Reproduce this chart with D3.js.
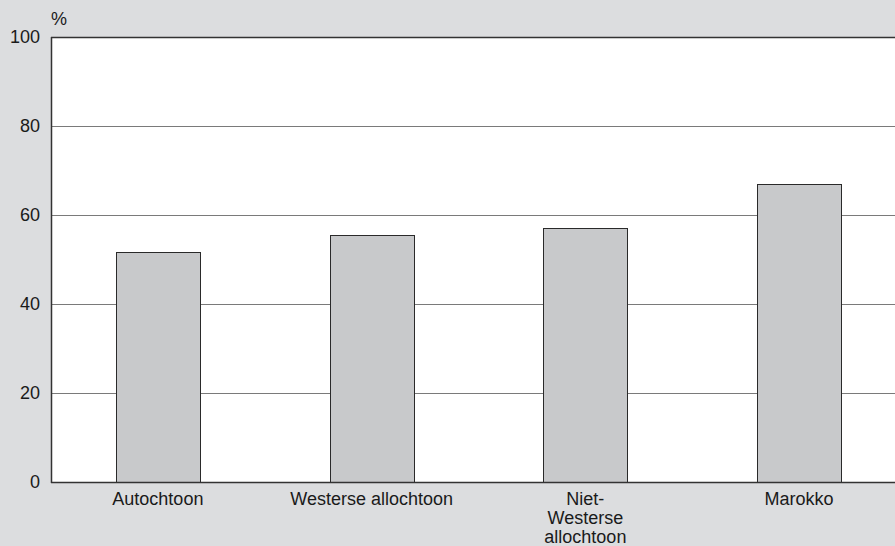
<!DOCTYPE html>
<html><head><meta charset="utf-8">
<script src="https://cdn.jsdelivr.net/npm/d3@7"></script>
<style>html,body{margin:0;padding:0;background:#dcdddf;}svg{display:block;}</style>
</head><body>
<svg id="c" width="895" height="546"></svg>
<script>
const categories = ["Autochtoon", "Westerse allochtoon", "Niet-Westerse allochtoon", "Marokko"];
const labelLines = [["Autochtoon"], ["Westerse allochtoon"], ["Niet-", "Westerse", "allochtoon"], ["Marokko"]];
const values = [51.6, 55.5, 57.0, 67.0];
const yTicks = [0, 20, 40, 60, 80, 100];
const unitLabel = "%";

(function () {
const svg = d3.select("#c");
const W = 895, H = 546;
const pLeft = 51, pTop = 37, pBottom = 482, rightExt = 906;
const font = "'Liberation Sans', Arial, sans-serif";
const fs = 18;

svg.append("rect").attr("width", W).attr("height", H).attr("fill", "#dcdddf");
svg.append("rect").attr("x", pLeft).attr("y", pTop).attr("width", W - pLeft).attr("height", pBottom - pTop).attr("fill", "#ffffff");

const x = d3.scaleBand().domain(categories).range([pLeft, rightExt]).paddingInner(0.607).paddingOuter(0.3035);
const y = d3.scaleLinear().domain([0, 100]).range([pBottom, pTop]);

// gridlines
svg.append("g").selectAll("line").data(yTicks.filter(t => t > 0 && t < 100)).join("line")
  .attr("x1", pLeft).attr("x2", W).attr("y1", d => y(d) + 0.5).attr("y2", d => y(d) + 0.5)
  .attr("stroke", "#7a7a7a").attr("stroke-width", 1);

// bars
svg.append("g").selectAll("rect").data(values).join("rect")
  .attr("x", (d, i) => Math.round(x(categories[i])) + 0.5)
  .attr("y", d => Math.round(y(d)) + 0.5)
  .attr("width", Math.round(x.bandwidth()))
  .attr("height", d => pBottom - Math.round(y(d)))
  .attr("fill", "#c8c9cb").attr("stroke", "#2a2a2a").attr("stroke-width", 1);

// frame lines: top, left, bottom
svg.append("line").attr("x1", pLeft).attr("x2", W).attr("y1", pTop + 0.5).attr("y2", pTop + 0.5).attr("stroke", "#333").attr("stroke-width", 1.5);
svg.append("line").attr("x1", pLeft).attr("x2", W).attr("y1", pBottom + 0.5).attr("y2", pBottom + 0.5).attr("stroke", "#333").attr("stroke-width", 1.5);
svg.append("line").attr("x1", pLeft + 0.5).attr("x2", pLeft + 0.5).attr("y1", pTop).attr("y2", pBottom + 1).attr("stroke", "#333").attr("stroke-width", 1.5);

// y axis labels
const yAxis = d3.axisLeft(y).tickValues(yTicks).tickSize(0).tickPadding(11);
const gy = svg.append("g").attr("transform", `translate(${pLeft},0)`).call(yAxis);
gy.select(".domain").remove();
gy.selectAll("text").attr("font-family", font).attr("font-size", fs).attr("fill", "#1a1a1a");

// x labels
const gx = svg.append("g");
categories.forEach((c, i) => {
  const cx = x(c) + x.bandwidth() / 2;
  const t = gx.append("text").attr("x", cx).attr("y", 505)
    .attr("text-anchor", "middle").attr("font-family", font).attr("font-size", fs).attr("fill", "#1a1a1a");
  labelLines[i].forEach((ln, j) => {
    t.append("tspan").attr("x", cx).attr("y", 505 + j * 19).text(ln);
  });
});

// unit label
svg.append("text").attr("x", pLeft).attr("y", 25).attr("font-family", font).attr("font-size", fs)
  .attr("fill", "#1a1a1a").text(unitLabel);
})();
</script>
</body></html>
